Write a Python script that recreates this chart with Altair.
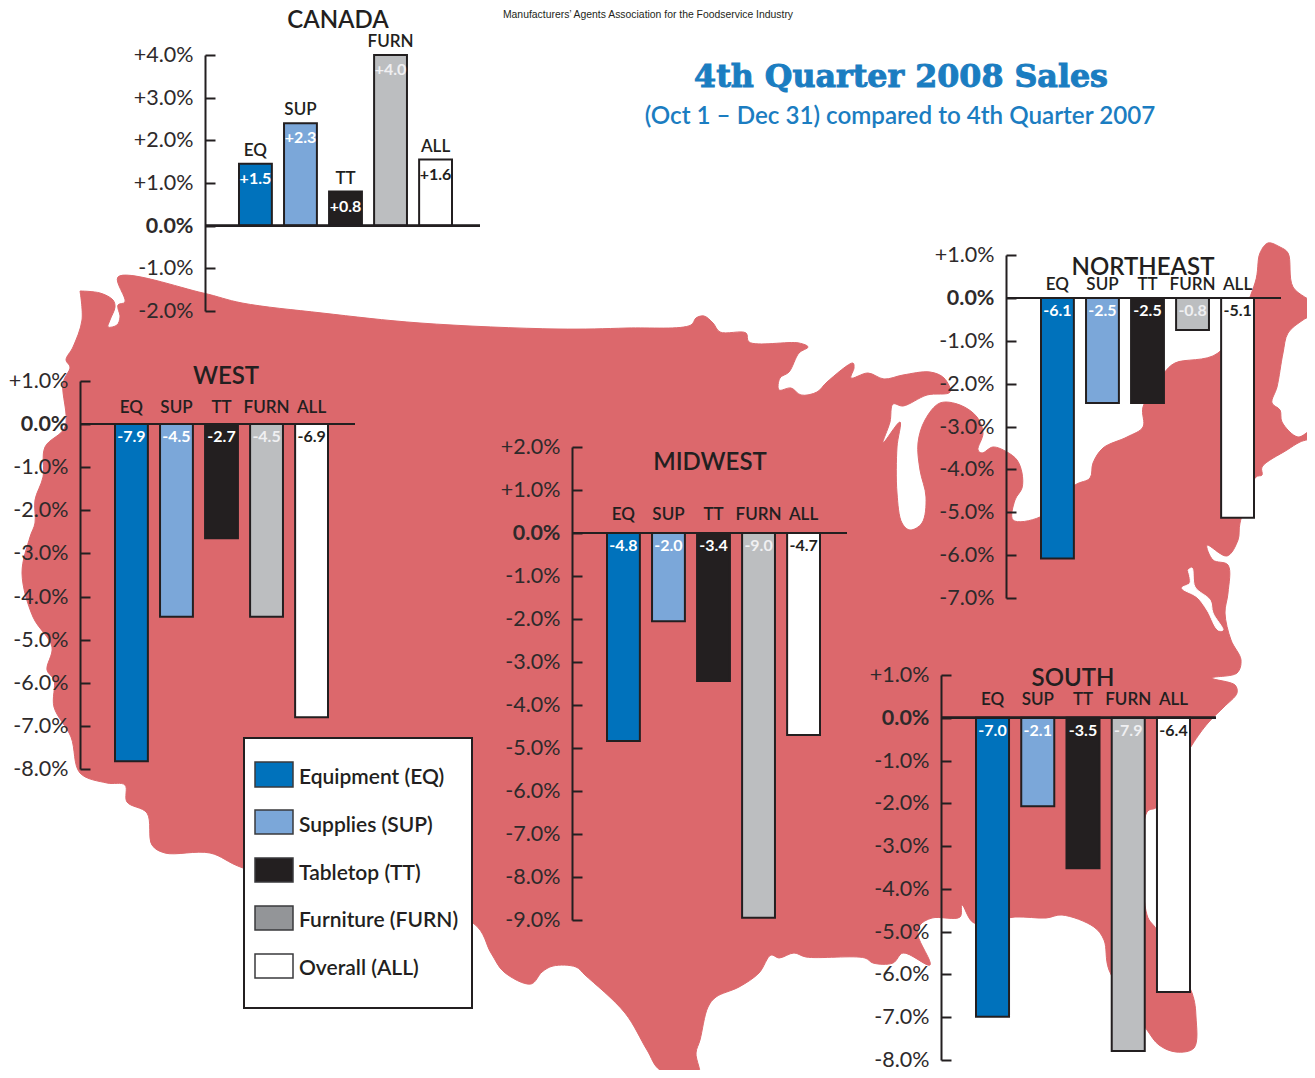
import altair as alt
import pandas as pd

CATS = ["EQ", "SUP", "TT", "FURN", "ALL"]
FILLS = ["#0072bc", "#7ba7d9", "#231f20", "#bcbec0", "#ffffff"]
TEXTS = ["#ffffff", "#ffffff", "#ffffff", "#f0f0f2", "#231f20"]

CANADA_V = [1.45, 2.4, 0.8, 4.0, 1.55]
CANADA_L = ["+1.5", "+2.3", "+0.8", "+4.0", "+1.6"]
WEST_V = [-7.82, -4.47, -2.65, -4.47, -6.8]
WEST_L = ["-7.9", "-4.5", "-2.7", "-4.5", "-6.9"]
MIDWEST_V = [-4.84, -2.05, -3.44, -8.95, -4.7]
MIDWEST_L = ["-4.8", "-2.0", "-3.4", "-9.0", "-4.7"]
NORTHEAST_V = [-6.08, -2.45, -2.45, -0.75, -5.13]
NORTHEAST_L = ["-6.1", "-2.5", "-2.5", "-0.8", "-5.1"]
SOUTH_V = [-6.99, -2.07, -3.52, -7.79, -6.41]
SOUTH_L = ["-7.0", "-2.1", "-3.5", "-7.9", "-6.4"]

LEGEND_NAMES = ["Equipment (EQ)", "Supplies (SUP)", "Tabletop (TT)", "Furniture (FURN)", "Overall (ALL)"]
LEGEND_FILLS = ["#0072bc", "#7ba7d9", "#231f20", "#939598", "#ffffff"]

MAP_X = [80,100,113,115,110,108,117,120,118,125,118,203,242,322,420,558,627,691,696,704,713,720,746,749,799,808,799,789,780,779,791,801,817,827,853,854,851,868,884,903,930,944,950,927,903,893,890,883,900,897,897,902,910,922,926,920,918,925,940,960,977,983,978,982,993,1007,1017,1022,1022,1015,1013,1040,1075,1090,1093,1103,1127,1143,1143,1164,1175,1218,1255,1260,1268,1280,1288,1293,1315,1315,1303,1288,1283,1277,1272,1280,1282,1298,1312,1313,1300,1287,1262,1262,1256,1240,1238,1227,1207,1213,1228,1228,1225,1231,1241,1237,1212,1235,1237,1224,1208,1192,1157,1147,1147,1157,1192,1196,1194,1176,1159,1147,1109,1104,1094,1062,1046,1015,974,962,960,932,920,918,930,903,893,873,865,806,794,779,771,759,739,716,708,700,696,699,660,647,625,585,576,553,542,531,504,491,473,243,210,165,152,147,127,125,107,80,71,54,54,47,52,33,22,30,35,35,43,45,65,63,70,66,73,82,80]
MAP_Y = [291,293,300,307,320,327,325,317,305,302,277,293,303,313,323,329,328,325,318,316,323,332,333,342,343,347,353,372,378,390,388,395,392,382,363,368,378,373,379,375,372,378,392,395,406,404,422,443,422,447,493,523,530,523,497,470,443,420,403,405,417,433,450,453,447,452,460,473,488,500,520,517,485,478,463,448,437,427,407,373,363,353,283,253,243,247,253,287,305,313,320,333,353,387,403,410,422,437,430,437,442,450,467,475,477,523,540,556,545,560,565,593,613,640,660,673,678,685,693,707,723,745,807,812,915,930,993,1017,1048,1052,1045,1030,970,940,927,915,918,917,923,905,917,918,925,935,965,953,963,963,958,957,953,958,955,973,987,997,1007,1040,1053,1077,1070,1050,1013,975,967,966,972,984,972,953,923,868,853,853,845,813,802,785,783,773,737,707,680,670,647,617,573,537,523,500,477,447,427,383,367,360,347,320,291]
BAY_X = [1188,1192,1195,1210,1213,1223,1218,1207,1197,1182,1190,1188]
BAY_Y = [570,568,587,600,613,630,630,610,597,588,583,570]

INK = "#231f20"
LAND = "#dc686c"
BLUE = "#1b7dc1"
FONT = "Lato"

W, H = 1299, 1062
PX = alt.Scale(domain=[8, 8 + W], range=[0, W], nice=False, zero=False)
PY = alt.Scale(domain=[8, 8 + H], range=[0, H], nice=False, zero=False)


def px(f):
    return alt.X(f, type="quantitative", scale=PX, axis=None)


def py(f):
    return alt.Y(f, type="quantitative", scale=PY, axis=None)


def outline(xs, ys, colour):
    df = pd.DataFrame({"x": xs, "y": ys, "i": range(len(xs))})
    return alt.Chart(df).mark_line(fill=colour, stroke=colour, strokeWidth=1, clip=True,
                                   interpolate="catmull-rom").encode(
        x=px("x"), y=py("y"), order="i:Q"
    )


def panel(vals, labs, axis_x, base_end, left, right, top_px, bot_px, ymax, ymin,
          cat_dy, inside_dy=13, above_bars=False, label_off=0.5):
    df = pd.DataFrame({"c": CATS, "v": vals, "l": labs, "f": FILLS, "t": TEXTS})
    ys = alt.Scale(domain=[ymin, ymax], range=[bot_px - 8, top_px - 8], nice=False, zero=False)
    xs = alt.Scale(domain=CATS, range=[left - 7, right - 9], paddingInner=0.27, paddingOuter=0)
    ticks = list(range(ymin, ymax + 1))
    axis = alt.Axis(
        orient="right", offset=axis_x - 8 - W, values=ticks, title=None, grid=False, zindex=1,
        domainColor=INK, domainWidth=2, tickColor=INK, tickWidth=2, tickSize=10,
        labelAlign="right", labelPadding=-22, labelFont=FONT, labelFontSize=21.5,
        labelOffset=label_off,
        labelColor="#2e2a2b", labelOverlap=False, labelBound=False, labelFlush=False,
        labelFontWeight=alt.ExprRef("datum.value === 0 ? 'bold' : 'normal'"),
        labelExpr="(datum.value < 0 ? '-' : datum.value > 0 ? '+' : '') + format(abs(datum.value), '.1f') + '%'",
    )
    x = alt.X("c:N", scale=xs, axis=None, sort=CATS)
    y_val = alt.Y("v:Q", scale=ys, axis=axis)
    y_zero = alt.Y(datum=0, scale=ys, axis=axis)
    bars = alt.Chart(df).mark_bar(stroke=INK, strokeWidth=2).encode(
        x=x, y=y_val, fill=alt.Fill("f:N", scale=None)
    )
    base = alt.Chart(df).mark_rule(color=INK, strokeWidth=2).encode(
        y=y_zero, x=alt.value(axis_x - 8), x2=alt.value(base_end - 8),
    )
    anchor = y_val if above_bars else y_zero
    cat = alt.Chart(df).mark_text(font=FONT, fontSize=17, fontWeight=600, color=INK, dy=cat_dy).encode(
        x=x, y=anchor, text="c:N")
    lab = alt.Chart(df).mark_text(font=FONT, fontSize=16, fontWeight="bold", dy=inside_dy).encode(
        x=x, y=anchor, text="l:N", color=alt.Color("t:N", scale=None))
    return alt.layer(bars, base, cat, lab)


def text_layer(rows, **kw):
    df = pd.DataFrame(rows, columns=["x", "y", "s"])
    return alt.Chart(df).mark_text(**kw).encode(x=px("x"), y=py("y"), text="s:N")


def rects(x1, x2, y1, y2, fills, stroke, sw):
    df = pd.DataFrame({"a": x1, "b": x2, "c": y1, "d": y2, "f": fills})
    return alt.Chart(df).mark_rect(stroke=stroke, strokeWidth=sw).encode(
        x=px("a"), x2="b:Q", y=py("c"), y2="d:Q", fill=alt.Fill("f:N", scale=None)
    )


land = outline(MAP_X, MAP_Y, LAND)
bay = outline(BAY_X, BAY_Y, "#ffffff")

canada = panel(CANADA_V, CANADA_L, 205, 480, 238, 453, 55, 311, 4, -2, -13, 15, True)
west = panel(WEST_V, WEST_L, 80, 355, 114, 329, 381, 769, 1, -8, -16)
midwest = panel(MIDWEST_V, MIDWEST_L, 572, 847, 606, 821, 447, 920, 2, -9, -18)
northeast = panel(NORTHEAST_V, NORTHEAST_L, 1006, 1281, 1040, 1255, 255, 598, 1, -7, -13)
south = panel(SOUTH_V, SOUTH_L, 941, 1216, 975, 1191, 675, 1060, 1, -8, -18)

titles = text_layer(
    [(338, 20.5, "CANADA"), (226, 377, "WEST"), (710, 463, "MIDWEST"),
     (1143, 268, "NORTHEAST"), (1073, 679, "SOUTH")],
    font=FONT, fontSize=24, fontWeight=600, color=INK,
)
tagline = text_layer([(648, 15, "Manufacturers\u2019 Agents Association for the Foodservice Industry")],
                     font="Liberation Sans", fontSize=10.4, color=INK)
head = text_layer([(901, 77, "4th Quarter 2008 Sales")],
                  font="DejaVu Serif", fontSize=31.7, fontWeight="bold", color=BLUE,
                  stroke=BLUE, strokeWidth=1)
sub = text_layer([(900, 117, "(Oct 1 \u2013 Dec 31) compared to 4th Quarter 2007")],
                 font=FONT, fontSize=24.2, fontWeight=600, color=BLUE)

box = rects([244], [472], [738], [1008], ["#ffffff"], INK, 2)
swatches = rects([255] * 5, [293] * 5, [762, 810, 858, 906, 954], [787, 834, 882, 930, 978],
                 LEGEND_FILLS, "#3a3a3c", 1.5)
legend_df = pd.DataFrame({"x": [299] * 5, "y": [778, 826, 874, 921, 969], "s": LEGEND_NAMES})
legend_text = alt.Chart(legend_df).mark_text(font=FONT, fontSize=21, fontWeight=600, color=INK, align="left").encode(
    x=px("x"), y=py("y"), text="s:N"
)

chart = alt.layer(
    land, bay, canada, west, midwest, northeast, south,
    titles, tagline, head, sub, box, swatches, legend_text,
).resolve_scale(x="independent", y="independent").properties(
    width=W, height=H, padding=0, autosize=alt.AutoSizeParams(type="none"), background="#ffffff"
).configure_view(stroke=None)

chart.save("out.html", embed_options={"renderer": "svg", "actions": False})
